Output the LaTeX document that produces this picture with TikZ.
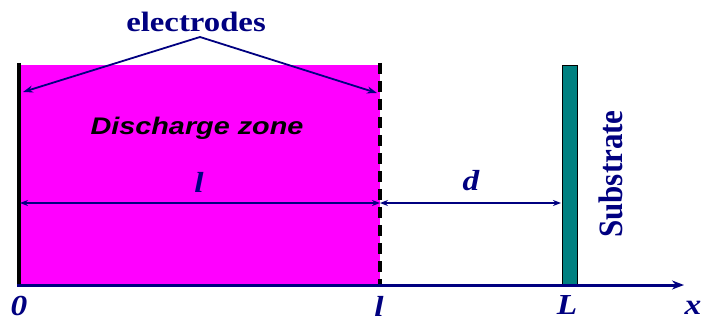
\documentclass[tikz,border=0pt]{standalone}
\usepackage{fontspec}
\setmainfont{Liberation Serif}
\newfontfamily\arialf{Liberation Sans}
\usetikzlibrary{arrows.meta}
\definecolor{navyc}{RGB}{0,0,128}
\definecolor{magc}{RGB}{255,0,255}
\definecolor{tealc}{RGB}{0,128,128}
\begin{document}
\begin{tikzpicture}[x=1pt,y=-1pt,
  lbl/.style={text=navyc,font=\fontsize{29}{31}\selectfont\bfseries\itshape,inner sep=0pt},
  dimline/.style={navyc,line width=1.6pt,{Stealth[length=8pt,width=6pt]}-{Stealth[length=8pt,width=6pt]}},
  pointer/.style={navyc,line width=1.8pt,-{Stealth[length=10pt,width=7pt]}},
  axisline/.style={navyc,line width=3pt,-{Stealth[length=12pt,width=9pt]}},
  electrode/.style={black,line width=3.5pt},
  zone/.style={fill=magc,draw=none},
  substrate/.style={fill=tealc,draw=black,line width=0.8pt}
]
\useasboundingbox (0,0) rectangle (702,321);
% zone
\fill[zone] (19,65) rectangle (380,285);
% electrodes
\coordinate (e1top) at (19,63);
\coordinate (e1bot) at (19,287);
\coordinate (e2top) at (380,63);
\coordinate (e2bot) at (380,287);
\draw[electrode] (e1top) -- (e1bot);
\draw[electrode,dash pattern=on 11pt off 7pt] (e2top) -- (e2bot);
% substrate
\draw[substrate] (562,65) rectangle (577,286);
% axis
\coordinate (ax0) at (17,285);
\coordinate (axend) at (684,285);
\draw[axisline] (ax0) -- (axend);
% dimension arrows
\coordinate (dl) at (20,203);
\coordinate (dm) at (380,203);
\coordinate (dr) at (561,203);
\draw[dimline] (dl) -- (dm);
\draw[dimline] (dm) -- (dr);
% electrodes label and pointers
\node[text=navyc,font=\fontsize{28}{30}\selectfont\bfseries,inner sep=0pt] (elab) at (196,22) {\scalebox{1.17}[1]{electrodes}};
\coordinate (apex) at (200,37);
\coordinate (p1) at (23,92);
\coordinate (p2) at (377,93);
\draw[pointer] (apex) -- (p1);
\draw[pointer] (apex) -- (p2);
% discharge zone
\node[text=black,font=\arialf\fontsize{24}{26}\selectfont\bfseries\itshape,inner sep=0pt] (dz) at (197,128) {\scalebox{1.2}[1]{Discharge zone}};
% labels
\node[lbl] (lab-l) at (199,182) {\scalebox{1.15}[1]{l}};
\node[lbl] (lab-d) at (471,181) {\scalebox{1.15}[1]{d}};
\node[lbl] (lab-0) at (19,306) {\scalebox{1.15}[1]{0}};
\node[lbl] (lab-l2) at (379,306) {\scalebox{1.15}[1]{l}};
\node[lbl] (lab-L) at (567,305) {\scalebox{1.15}[1]{L}};
\node[lbl] (lab-x) at (693,308) {\scalebox{1.15}[1]{x}};
\node[text=navyc,font=\fontsize{31}{33}\selectfont\bfseries,inner sep=0pt,rotate=90] (sub) at (611,174) {\scalebox{1}[1.1]{Substrate}};
\end{tikzpicture}
\end{document}
